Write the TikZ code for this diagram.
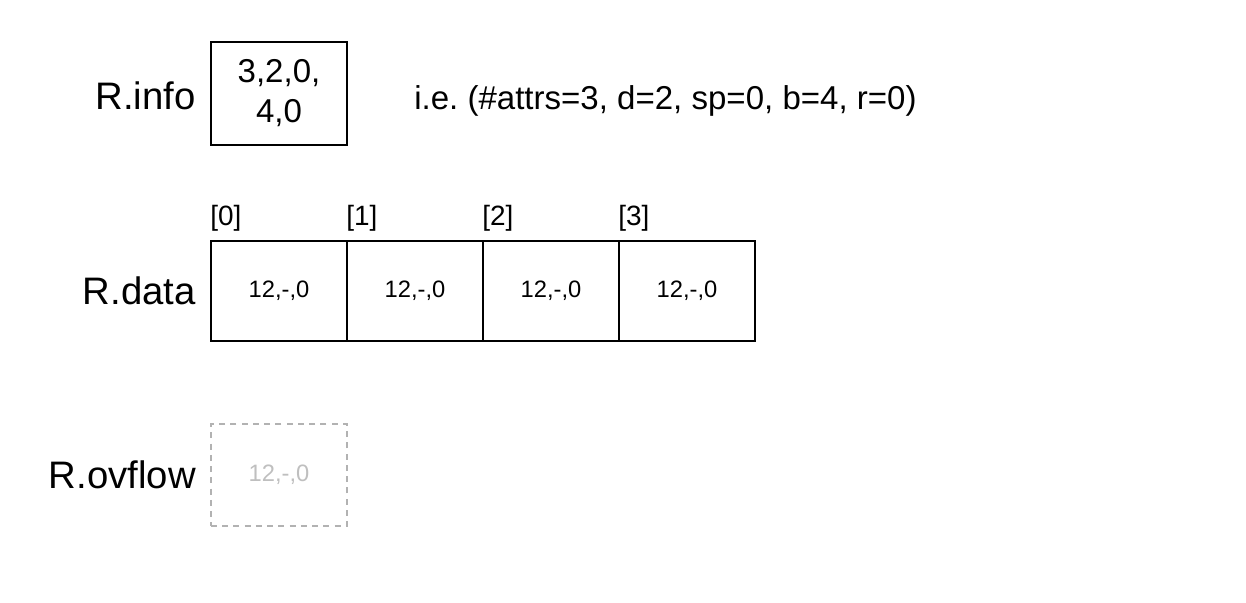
\documentclass[tikz,border=0pt]{standalone}
\usepackage{fontspec}
\setmainfont{Liberation Sans}
\usetikzlibrary{positioning}
\frenchspacing

\begin{document}
\begin{tikzpicture}[
    cell/.style={draw, line width=1.1pt, minimum width=2.72cm, minimum height=2cm, inner sep=0pt},
    ovcell/.style={draw=black!30, line width=1.1pt, dash pattern=on 3.4pt off 3pt, text=black!25, minimum width=2.72cm, minimum height=2.04cm, inner sep=0pt},
    lbl/.style={inner sep=0pt, font=\fontsize{21.8}{26}\selectfont},
    val/.style={font=\fontsize{13.5}{16}\selectfont},
    idx/.style={inner sep=0pt, font=\fontsize{15.9}{19}\selectfont}
  ]
  \useasboundingbox (0, 0) rectangle (24.92, -12.04);

  \node[cell, minimum height=2.06cm, align=center, font=\fontsize{18.8}{22.8}\selectfont] (info) at (5.58, -1.87) {3,2,0,\\4,0};
  \node[lbl, left=0.28cm of info, yshift=-0.05cm] (infolbl) {R.info};
  \node[inner sep=0pt, right=1.32cm of info, yshift=-0.14cm, font=\fontsize{18.8}{22.8}\selectfont] (infotxt) {i.e. (\#attrs=3, d=2, sp=0, b=4, r=0)};

  \foreach \i in {0,...,3} {
    \node[cell, val] (d\i) at (5.58 + 2.72*\i, -5.82) {12,-,0};
    \node[idx, above right=0.16cm and 0cm of d\i.north west] (i\i) {[\i]};
  }
  \node[lbl, left=0.28cm of d0] (datalbl) {R.data};

  \node[ovcell, val] (ov) at (5.58, -9.5) {12,-,0};
  \node[lbl, left=0.28cm of ov] (ovlbl) {R.ovflow};
\end{tikzpicture}
\end{document}
